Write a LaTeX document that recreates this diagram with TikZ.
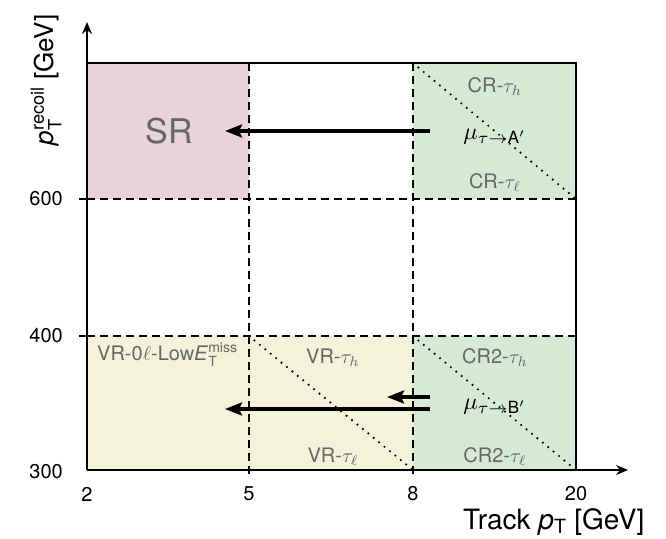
\RequirePackage{fix-cm}
\documentclass[tikz,border=0pt]{standalone}
\usepackage{amsmath}
\usepackage{fontspec}
\setmainfont{TeX Gyre Heros}
\usetikzlibrary{arrows.meta}
\definecolor{srpink}{HTML}{E8D3D8}
\definecolor{crgreen}{HTML}{D6E9D5}
\definecolor{vryellow}{HTML}{F3F3DC}
\definecolor{labgrey}{HTML}{666666}
\newcommand{\mth}[2]{\scalebox{#1}{\fontsize{10}{12}\selectfont$#2$}}
\tikzset{
  frameline/.style={line width=2.6pt},
  dashline/.style={line width=2.2pt, dash pattern=on 8pt off 5pt},
  dotline/.style={line width=2.4pt, dash pattern=on 0pt off 7pt, line cap=round},
  bigarrow/.style={line width=3.2pt, -{Stealth[length=17pt,width=13pt,inset=3pt]}},
  axisarrow/.style={line width=1.8pt, -{Stealth[length=12pt,width=10pt]}},
  reglab/.style={text=labgrey, font=\fontsize{20}{22}\selectfont, anchor=base, inner sep=0pt},
  ticklab/.style={font=\fontsize{20}{22}\selectfont},
  mulab/.style={font=\fontsize{24}{26}\selectfont, anchor=base, inner sep=0pt}
}
\begin{document}
\begin{tikzpicture}[x=1pt,y=-1pt]
\useasboundingbox (0,0) rectangle (666,538);
% coordinates
\coordinate (o) at (87,470);
\coordinate (tl) at (87,63);
\coordinate (tr) at (576,63);
\coordinate (br) at (576,470);
% fills
\fill[srpink] (87,63) rectangle (249,199);
\fill[crgreen] (413,63) rectangle (576,199);
\fill[vryellow] (87,336) rectangle (413,470);
\fill[crgreen] (413,336) rectangle (576,470);
% dashed grid
\draw[dashline] (87,199) -- (576,199);
\draw[dashline] (87,336) -- (576,336);
\draw[dashline] (249,63) -- (249,478);
\draw[dashline] (413,63) -- (413,478);
% dotted diagonals
\draw[dotline] (413,63) -- (576,199);
\draw[dotline] (413,336) -- (576,470);
\draw[dotline] (249,336) -- (413,470);
% frame
\draw[frameline] (tl) -- (tr) -- (br);
% axes
\coordinate (yend) at (87,22);
\coordinate (xend) at (628,470);
\draw[axisarrow] (o) -- (yend);
\draw[axisarrow] (o) -- (xend);
\draw[line width=1.6pt] (79,199) -- (87,199);
\draw[line width=1.6pt] (79,336) -- (87,336);
% tick labels
\node[ticklab, anchor=east, inner sep=0pt] (t600) at (63,199) {600};
\node[ticklab, anchor=east, inner sep=0pt] (t400) at (63,336) {400};
\node[ticklab, anchor=east, inner sep=0pt] (t300) at (63,472) {300};
\node[ticklab] (t2) at (87,494) {2};
\node[ticklab] (t5) at (249,494) {5};
\node[ticklab] (t8) at (413,494) {8};
\node[ticklab] (t20) at (576,494) {20};
% axis labels
\node[anchor=base west, inner sep=0pt, font=\fontsize{28}{30}\selectfont] (xlab) at (463,529) {Track \textit{p}$_{\text{T}}$ [GeV]};
\node[rotate=90, font=\fontsize{26}{28}\selectfont] (ylab) at (46,80) {\textit{p}$_{\text{T}}^{\text{recoil}}$ [GeV]};
% region labels
\node[text=labgrey, anchor=base, inner sep=0pt, font=\fontsize{34}{36}\selectfont] (sr) at (169,143) {SR};
\node[reglab] (crh) at (495,92) {CR-\mth{2}{\tau_h}};
\node[reglab] (crl) at (495,188) {CR-\mth{2}{\tau_\ell}};
\node[reglab, anchor=base west] (vr0) at (97,360) {VR-0\mth{2}{\ell}-Low\textit{E}$_{\text{T}}^{\text{miss}}$};
\node[reglab] (vrh) at (333,363) {VR-\mth{2}{\tau_h}};
\node[reglab] (vrl) at (333,462) {VR-\mth{2}{\tau_\ell}};
\node[reglab] (cr2h) at (495,363) {CR2-\mth{2}{\tau_h}};
\node[reglab] (cr2l) at (495,462) {CR2-\mth{2}{\tau_\ell}};
% mu labels
\node[mulab] (muA) at (495,139) {\mth{2.4}{\mu_{\tau\to\text{A}'}}};
\node[mulab] (muB) at (495,409) {\mth{2.4}{\mu_{\tau\to\text{B}'}}};
% arrows
\coordinate (a1s) at (430,131);
\coordinate (a1e) at (225,131);
\coordinate (a2s) at (430,409);
\coordinate (a2e) at (225,409);
\coordinate (a3s) at (430,397);
\coordinate (a3e) at (387,397);
\draw[bigarrow] (a1s) -- (a1e);
\draw[bigarrow] (a2s) -- (a2e);
\draw[bigarrow] (a3s) -- (a3e);
\end{tikzpicture}
\end{document}
